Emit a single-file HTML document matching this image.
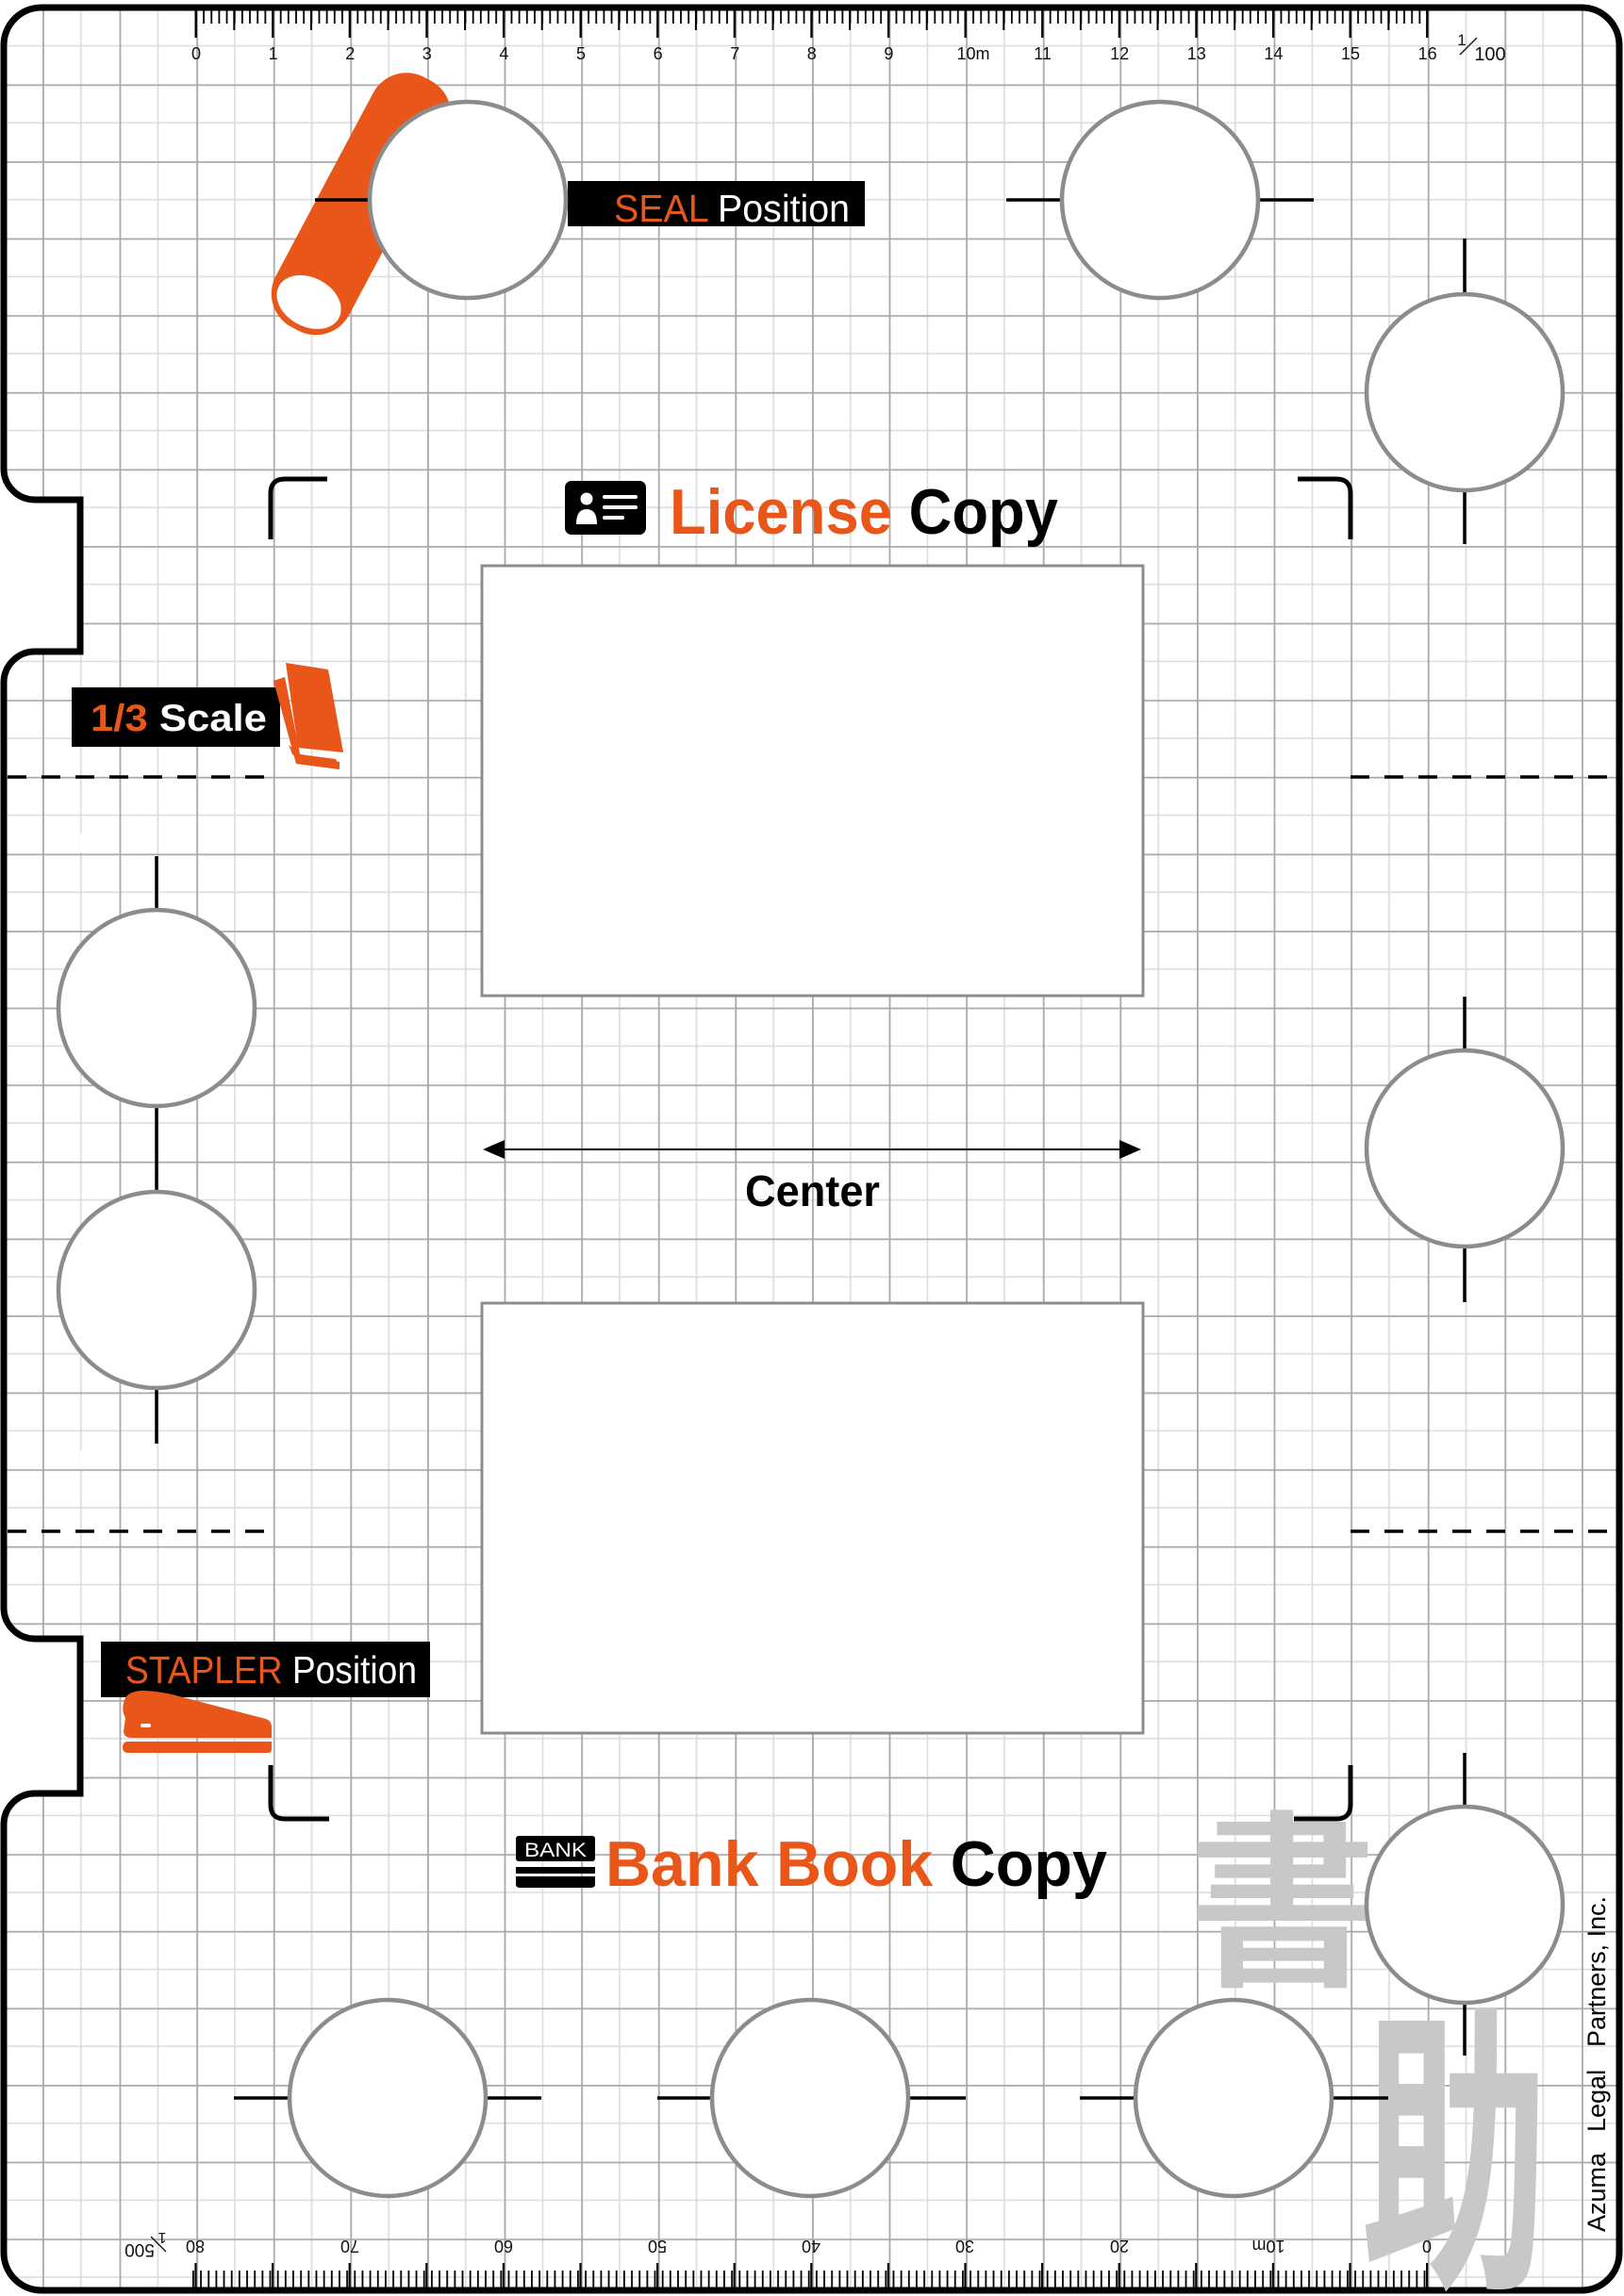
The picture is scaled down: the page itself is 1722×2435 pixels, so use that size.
<!DOCTYPE html>
<html><head><meta charset="utf-8"><style>html,body{margin:0;padding:0;background:#fff}svg{display:block}</style></head>
<body>
<svg width="1722" height="2435" viewBox="0 0 1722 2435" xmlns="http://www.w3.org/2000/svg" font-family="'Liberation Sans', sans-serif">
<defs>
<pattern id="grid" x="45" y="7.8" width="81.6" height="81.6" patternUnits="userSpaceOnUse">
<line x1="40.8" y1="0" x2="40.8" y2="81.6" stroke="#dcdcdc" stroke-width="1.6"/>
<line x1="0" y1="40.8" x2="81.6" y2="40.8" stroke="#dcdcdc" stroke-width="1.6"/>
<line x1="0.8" y1="0" x2="0.8" y2="81.6" stroke="#a9a9a9" stroke-width="2"/>
<line x1="0" y1="0.8" x2="81.6" y2="0.8" stroke="#a9a9a9" stroke-width="2"/>
</pattern>
<pattern id="tickT" x="207" y="0" width="8.16" height="100" patternUnits="userSpaceOnUse"><rect x="0" y="0" width="1.8" height="100" fill="#000"/></pattern>
<pattern id="tickTM" x="206.5" y="0" width="81.6" height="100" patternUnits="userSpaceOnUse"><rect x="0" y="0" width="2.4" height="100" fill="#000"/></pattern>
<pattern id="tickTH" x="247.3" y="0" width="81.6" height="100" patternUnits="userSpaceOnUse"><rect x="0" y="0" width="2" height="100" fill="#000"/></pattern>
<pattern id="tickB" x="204" y="0" width="8.16" height="100" patternUnits="userSpaceOnUse"><rect x="0" y="0" width="1.8" height="100" fill="#000"/></pattern>
<pattern id="tickBM" x="1512" y="0" width="81.6" height="100" patternUnits="userSpaceOnUse"><rect x="0" y="0" width="2.2" height="100" fill="#000"/></pattern>
<clipPath id="clipB"><path d="M44 8 H1677 A40 40 0 0 1 1717 48 V2389 A40 40 0 0 1 1677 2429 H44 A40 40 0 0 1 4 2389 V1935 A33 33 0 0 1 37 1902 H85 V1738 H37 A33 33 0 0 1 4 1705 V724 A33 33 0 0 1 37 691 H85 V530 H37 A33 33 0 0 1 4 497 V48 A40 40 0 0 1 44 8 Z"/></clipPath>
</defs>
<rect width="1722" height="2435" fill="#fff"/>
<g clip-path="url(#clipB)">
<rect width="1722" height="2435" fill="url(#grid)"/>
<rect x="85" y="884" width="40" height="20" fill="#fff"/>
<rect x="85" y="1538" width="40" height="20" fill="#fff"/>
<rect x="206" y="8" width="1310" height="17" fill="url(#tickT)"/>
<rect x="246" y="8" width="1250" height="24" fill="url(#tickTH)"/>
<rect x="205" y="8" width="1312" height="32" fill="url(#tickTM)"/>
<rect x="203" y="2408" width="1312" height="22" fill="url(#tickB)"/>
<rect x="200" y="2400" width="1316" height="30" fill="url(#tickBM)"/>
</g>
<path d="M44 8 H1677 A40 40 0 0 1 1717 48 V2389 A40 40 0 0 1 1677 2429 H44 A40 40 0 0 1 4 2389 V1935 A33 33 0 0 1 37 1902 H85 V1738 H37 A33 33 0 0 1 4 1705 V724 A33 33 0 0 1 37 691 H85 V530 H37 A33 33 0 0 1 4 497 V48 A40 40 0 0 1 44 8 Z" fill="none" stroke="#000" stroke-width="7"/>

<g font-family="'Liberation Sans Narrow','Liberation Sans',sans-serif" font-size="18" text-anchor="middle" fill="#111">
<text x="208" y="63">0</text><text x="289.6" y="63">1</text><text x="371.2" y="63">2</text><text x="452.8" y="63">3</text><text x="534.4" y="63">4</text><text x="616" y="63">5</text><text x="697.6" y="63">6</text><text x="779.2" y="63">7</text><text x="860.8" y="63">8</text><text x="942.4" y="63">9</text><text x="1032" y="63">10m</text><text x="1105.6" y="63">11</text><text x="1187.2" y="63">12</text><text x="1268.8" y="63">13</text><text x="1350.4" y="63">14</text><text x="1432" y="63">15</text><text x="1513.6" y="63">16</text>
<text x="1550" y="48" font-size="17">1</text>
<text x="1580" y="64" font-size="20">100</text>
</g>
<line x1="1548" y1="58" x2="1566" y2="40" stroke="#111" stroke-width="1.3"/>
<g font-family="'Liberation Sans Narrow','Liberation Sans',sans-serif" font-size="18" text-anchor="middle" fill="#111">
<text transform="rotate(180 1513 2382)" x="1513" y="2388">0</text>
<text transform="rotate(180 1345 2382)" x="1345" y="2388">10m</text>
<text transform="rotate(180 1187 2382)" x="1187" y="2388">20</text>
<text transform="rotate(180 1023 2382)" x="1023" y="2388">30</text>
<text transform="rotate(180 860 2382)" x="860" y="2388">40</text>
<text transform="rotate(180 697 2382)" x="697" y="2388">50</text>
<text transform="rotate(180 534 2382)" x="534" y="2388">60</text>
<text transform="rotate(180 371 2382)" x="371" y="2388">70</text>
<text transform="rotate(180 207 2382)" x="207" y="2388">80</text>
<text transform="rotate(180 148 2386)" x="148" y="2392" font-size="19">500</text>
<text transform="rotate(180 172 2374)" x="172" y="2380" font-size="16">1</text>
</g>
<line x1="160" y1="2372" x2="176" y2="2388" stroke="#111" stroke-width="1.3"/>

<text x="1360" y="2090" font-family="'Noto Sans CJK JP',sans-serif" font-weight="700" font-size="200" fill="#c8c8c8" text-anchor="middle">書</text>
<g transform="translate(1543 2136) scale(1 1.6)"><text x="0" y="166" font-family="'Noto Sans CJK JP',sans-serif" font-weight="700" font-size="200" fill="#c8c8c8" text-anchor="middle">助</text></g>

<g transform="translate(382 218) rotate(28)">
<rect x="-44" y="-152" width="88" height="300" rx="40" fill="#e8561a"/>
<ellipse cx="0" cy="116" rx="36" ry="26" fill="#fff"/>
</g>

<g stroke="#000" stroke-width="3.5">
<line x1="334" y1="212" x2="392" y2="212"/>
<line x1="1067" y1="212" x2="1126" y2="212"/><line x1="1336" y1="212" x2="1393" y2="212"/>
<line x1="1553" y1="253" x2="1553" y2="311"/><line x1="1553" y1="521" x2="1553" y2="577"/>
<line x1="166" y1="908" x2="166" y2="965"/>
<line x1="166" y1="1174" x2="166" y2="1264"/>
<line x1="166" y1="1473" x2="166" y2="1531"/>
<line x1="1553" y1="1057" x2="1553" y2="1114"/><line x1="1553" y1="1323" x2="1553" y2="1381"/>
<line x1="1553" y1="1859" x2="1553" y2="1916"/><line x1="1553" y1="2125" x2="1553" y2="2180"/>
<line x1="248" y1="2225" x2="307" y2="2225"/><line x1="516" y1="2225" x2="574" y2="2225"/>
<line x1="697" y1="2225" x2="755" y2="2225"/><line x1="964" y1="2225" x2="1024" y2="2225"/>
<line x1="1145" y1="2225" x2="1202" y2="2225"/><line x1="1413" y1="2225" x2="1472" y2="2225"/>
</g>

<rect x="602" y="192" width="315" height="48" fill="#000"/>
<g fill="#fff" stroke="#8c8c8c" stroke-width="4.5">
<circle cx="496" cy="212" r="104"/>
<circle cx="1230" cy="212" r="104"/>
<circle cx="1553" cy="416" r="104"/>
<circle cx="166" cy="1069" r="104"/>
<circle cx="166" cy="1368" r="104"/>
<circle cx="1553" cy="1218" r="104"/>
<circle cx="1553" cy="2020" r="104"/>
<circle cx="411" cy="2225" r="104"/>
<circle cx="859" cy="2225" r="104"/>
<circle cx="1308" cy="2225" r="104"/>
</g>
<text x="651" y="235" font-size="41" textLength="250" lengthAdjust="spacingAndGlyphs"><tspan fill="#e8561a">SEAL</tspan><tspan fill="#fff"> Position</tspan></text>

<rect x="511" y="600" width="701" height="456" fill="#fff" stroke="#8c8c8c" stroke-width="3"/>
<rect x="511" y="1382" width="701" height="456" fill="#fff" stroke="#8c8c8c" stroke-width="3"/>

<g fill="none" stroke="#000" stroke-width="5">
<path d="M287 572 V523 Q287 508 302 508 H347"/>
<path d="M1376 508 H1417 Q1432 508 1432 523 V572"/>
<path d="M287 1872 V1914 Q287 1929 302 1929 H349"/>
<path d="M1372 1929 H1417 Q1432 1929 1432 1914 V1872"/>
</g>

<g stroke="#000" stroke-width="3.5" stroke-dasharray="20 16">
<line x1="8" y1="824" x2="282" y2="824"/><line x1="1432" y1="824" x2="1714" y2="824"/>
<line x1="8" y1="1624" x2="282" y2="1624"/><line x1="1432" y1="1624" x2="1714" y2="1624"/>
</g>

<line x1="530" y1="1219" x2="1192" y2="1219" stroke="#000" stroke-width="2"/>
<polygon points="512,1219 535,1209 535,1229" fill="#000"/>
<polygon points="1210,1219 1187,1209 1187,1229" fill="#000"/>
<text x="790" y="1279" font-size="46" font-weight="700" textLength="143" lengthAdjust="spacingAndGlyphs" fill="#000">Center</text>

<rect x="599" y="510" width="86" height="57" rx="7" fill="#000"/>
<circle cx="622" cy="529" r="6.5" fill="#fff"/>
<path d="M611 556 Q611 540 622 540 Q633 540 633 556 Z" fill="#fff"/>
<g stroke="#fff" stroke-width="4" stroke-linecap="round"><line x1="641" y1="527" x2="674" y2="527"/><line x1="641" y1="538" x2="674" y2="538"/><line x1="641" y1="549" x2="660" y2="549"/></g>
<text x="710" y="566" font-size="68" font-weight="700" textLength="412" lengthAdjust="spacingAndGlyphs"><tspan fill="#e8561a">License</tspan><tspan fill="#000"> Copy</tspan></text>

<rect x="547" y="1947" width="84" height="27" rx="3" fill="#000"/>
<text x="589" y="1969" font-size="21" fill="#fff" text-anchor="middle" textLength="66" lengthAdjust="spacingAndGlyphs">BANK</text>
<rect x="547" y="1980" width="84" height="7" fill="#000"/>
<path d="M547 1990 H631 V1998 Q631 2002 627 2002 H551 Q547 2002 547 1998 Z" fill="#000"/>
<text x="642" y="2000" font-size="68" font-weight="700" textLength="532" lengthAdjust="spacingAndGlyphs"><tspan fill="#e8561a">Bank Book</tspan><tspan fill="#000"> Copy</tspan></text>

<rect x="76" y="729" width="221" height="63" fill="#000"/>
<text x="96" y="775" font-size="40" font-weight="700" textLength="187" lengthAdjust="spacingAndGlyphs"><tspan fill="#e8561a">1/3</tspan><tspan fill="#fff"> Scale</tspan></text>
<polygon points="290,722 302,718 318,800 360,808 360,816 314,810" fill="#e8561a"/>
<polygon points="303,703 348,710 364,798 316,793" fill="#e8561a"/>
<polygon points="306,790 318,800 356,805 360,813 322,807 310,800" fill="#e8561a"/>

<rect x="107" y="1741" width="349" height="59" fill="#000"/>
<text x="133" y="1785" font-size="41" textLength="309" lengthAdjust="spacingAndGlyphs"><tspan fill="#e8561a">STAPLER</tspan><tspan fill="#fff"> Position</tspan></text>
<path d="M133 1822 Q129 1815 131 1806 Q133 1794 150 1793 Q168 1793 190 1799 L282 1823 Q288 1825 288 1832 L288 1843 L140 1843 Q131 1843 131 1836 Z" fill="#e8561a"/>
<path d="M136 1847 H288 V1855 Q288 1859 284 1859 H136 Q130 1859 130 1853 Q130 1847 136 1847 Z" fill="#e8561a"/>
<rect x="149" y="1828" width="11" height="4" rx="2" fill="#fff"/>

<g font-size="27" fill="#000">
<text transform="translate(1702 2367) rotate(-90)">Azuma</text>
<text transform="translate(1702 2261) rotate(-90)">Legal</text>
<text transform="translate(1702 2171) rotate(-90)" textLength="160" lengthAdjust="spacingAndGlyphs">Partners, Inc.</text>
</g>
</svg>
</body></html>
